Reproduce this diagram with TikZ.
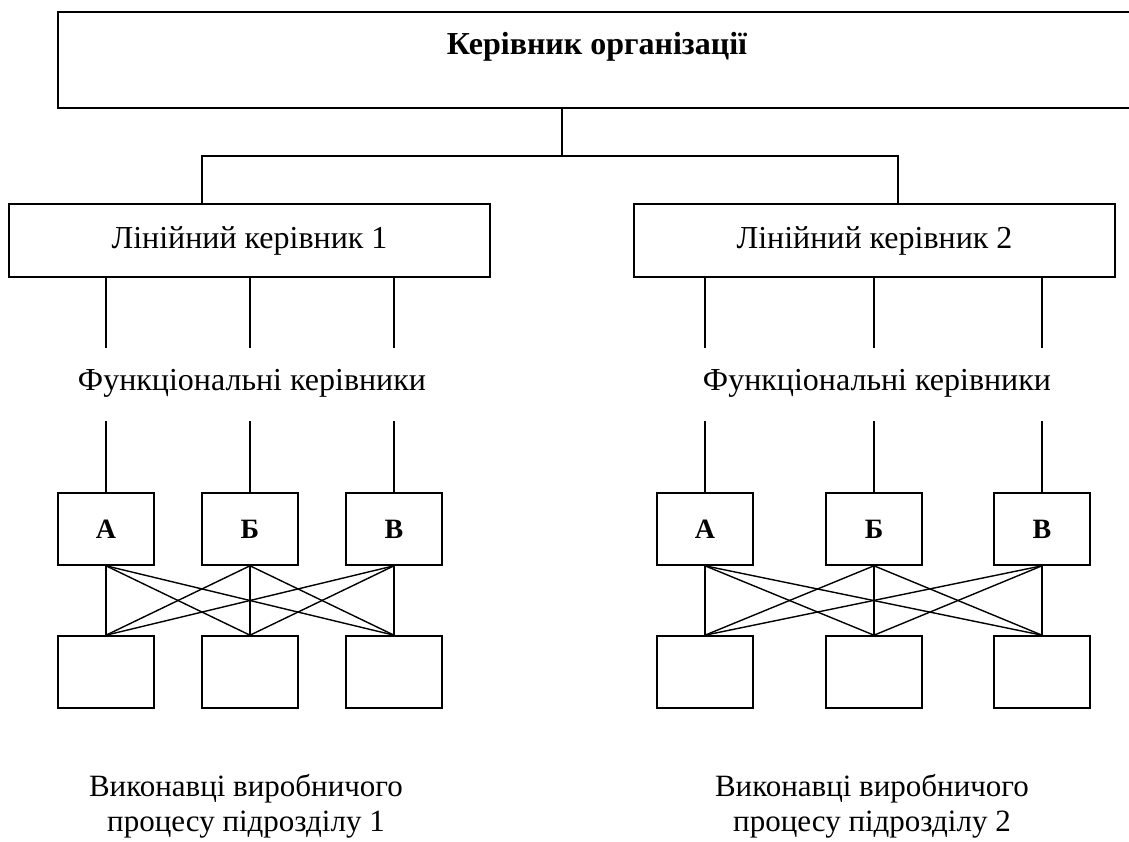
\documentclass[tikz,border=0pt]{standalone}
\usepackage{fontspec}
\setmainfont{Liberation Serif}
\begin{document}
\begin{tikzpicture}[x=1pt, y=-1pt,
  every path/.style={line width=1.4pt},
  box/.style={draw, line width=1.6pt, inner sep=0pt, align=center},
  txt/.style={font=\fontsize{32}{35}\selectfont, align=center, inner sep=0pt},
  boldtxt/.style={font=\fontsize{32}{35}\selectfont\bfseries, inner sep=0pt},
  manager/.style={box, txt, minimum width=481pt, minimum height=73pt},
  letterbox/.style={box, font=\fontsize{28}{30}\selectfont\bfseries, minimum width=96pt, minimum height=72pt},
  cellbox/.style={box, minimum width=96pt, minimum height=72pt}]
\useasboundingbox (0,0) rectangle (1129,842);

% head of the organisation
\node[box, minimum width=1078pt, minimum height=96pt] (head) at (597,60) {};
\node[boldtxt, anchor=base] (headtext) at (597,55) {Керівник організації};

% line managers
\node[manager] (lk1) at (249.5,240.5) {Лінійний керівник 1};
\node[manager] (lk2) at (874.5,240.5) {Лінійний керівник 2};

\coordinate (j)  at (562,156);
\coordinate (jl) at (202,156);
\coordinate (jr) at (898,156);
\draw (head.south -| j) -- (j);
\draw (lk1.north -| jl) -- (jl) -- (jr) -- (lk2.north -| jr);

% two subdivisions: functional managers A, Б, В and their performers
\foreach \s/\xa/\xb/\xc/\xf/\xp/\lk/\n in
  {L/106/250/394/252/246/lk1/1, R/705/874/1042/877/872/lk2/2} {
  \node[txt, anchor=base] (fk\s) at (\xf,390) {Функціональні керівники};
  \node[letterbox] (\s a) at (\xa,529) {А};
  \node[letterbox] (\s b) at (\xb,529) {Б};
  \node[letterbox] (\s c) at (\xc,529) {В};
  \node[cellbox] (\s x) at (\xa,672) {};
  \node[cellbox] (\s y) at (\xb,672) {};
  \node[cellbox] (\s z) at (\xc,672) {};
  \node[txt, font=\fontsize{31}{35}\selectfont] (ex\s) at (\xp,806) {Виконавці виробничого\\процесу підрозділу \n};
  \foreach \k/\x in {a/\xa, b/\xb, c/\xc} {
    \coordinate (\s\k top) at (\x,348);
    \coordinate (\s\k bot) at (\x,421);
    \draw (\lk.south -| \s\k top) -- (\s\k top);
    \draw (\s\k bot) -- (\s\k.north);
    \foreach \m in {x,y,z}
      \draw (\s\k.south) -- (\s\m.north);
  }
}
\end{tikzpicture}
\end{document}
